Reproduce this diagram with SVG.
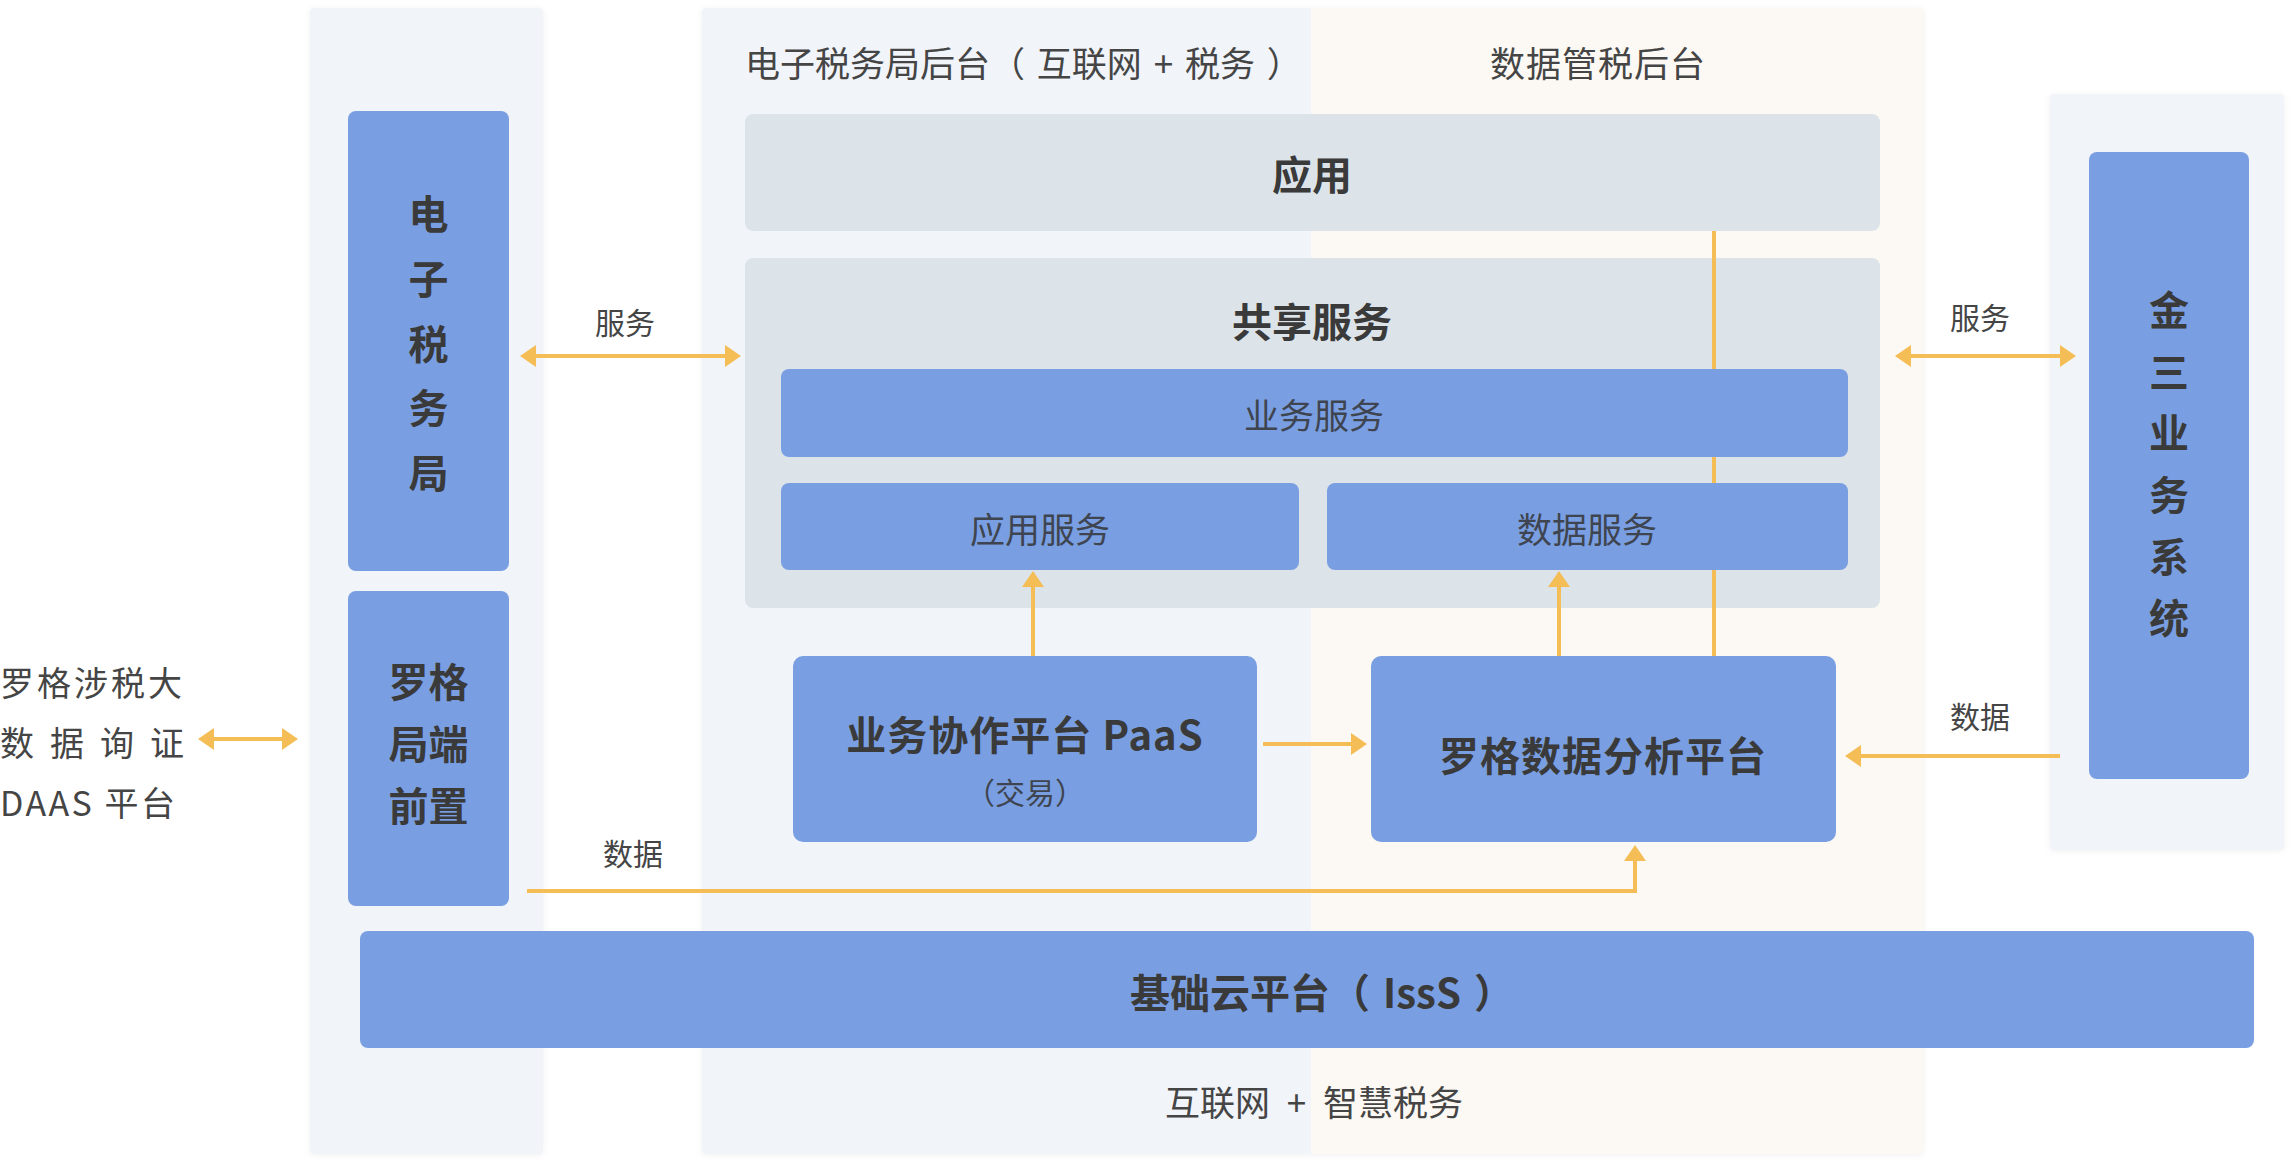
<svg xmlns="http://www.w3.org/2000/svg" width="2296" height="1168" viewBox="0 0 2296 1168">
<defs>
<filter id="sh" x="-5%" y="-5%" width="110%" height="110%"><feDropShadow dx="0" dy="1" stdDeviation="3" flood-color="#000" flood-opacity="0.06"/></filter>
<marker id="ah" viewBox="0 0 16 22" refX="1" refY="11" markerWidth="16" markerHeight="22" markerUnits="userSpaceOnUse" orient="auto-start-reverse"><path d="M0,0 L16,11 L0,22 z" fill="#f5bd56"/></marker>
</defs>
<style>
.panel{fill:#f1f4f8}
.cream{fill:#fcf9f4}
.grey{fill:#dde4e9}
.blue{fill:#799fe2}
.t{font-family:"Noto Sans CJK SC","Noto Sans",sans-serif;fill:#454545}
.b{font-weight:700;fill:#3a3a3a;font-size:40px}
.n{font-size:35px}
.ni{font-size:35px;fill:#3f4550}
.lbl{font-size:30px}
.c{text-anchor:middle;dominant-baseline:central}
.m{dominant-baseline:central}
.ln{stroke:#f5bd56;stroke-width:4;fill:none}
</style>
<rect width="2296" height="1168" fill="#ffffff"/>

<g id="panel-left">
<rect class="panel" x="310" y="8" width="233" height="1146" rx="4" filter="url(#sh)"/>
</g>
<g id="panel-center">
<rect class="panel" x="702" y="8" width="1221" height="1146" rx="4" filter="url(#sh)"/>
<rect class="cream" x="1311" y="8" width="612" height="1146"/>
<text class="t n m" style="word-spacing:4px" x="745" y="61">电子税务局后台（ 互联网 + 税务 ）</text>
<text class="t n m" style="letter-spacing:1px" x="1490" y="61">数据管税后台</text>
<text class="t n c" style="word-spacing:9px" x="1314" y="1100">互联网 + 智慧税务</text>
</g>
<g id="panel-right">
<rect class="panel" x="2050" y="94" width="234" height="756" rx="4" filter="url(#sh)"/>
</g>

<g id="source-daas">
<text class="t m" style="font-size:34px" y="681"><tspan x="0">罗</tspan><tspan x="37">格</tspan><tspan x="74">涉</tspan><tspan x="111">税</tspan><tspan x="148">大</tspan></text>
<text class="t m" style="font-size:34px" y="741"><tspan x="0">数</tspan><tspan x="50">据</tspan><tspan x="100">询</tspan><tspan x="150">证</tspan></text>
<text class="t m" style="font-size:34px;letter-spacing:2.5px" x="0" y="801">DAAS 平台</text>
</g>

<g id="node-app">
<rect class="grey" x="745" y="114" width="1135" height="117" rx="8"/>
<text class="t b c" x="1312" y="173">应用</text>
</g>
<g id="node-shared">
<rect class="grey" x="745" y="258" width="1135" height="350" rx="8"/>
<text class="t b c" x="1312" y="320">共享服务</text>
</g>

<g id="connectors">
<line class="ln" x1="213" y1="739" x2="283" y2="739" marker-start="url(#ah)" marker-end="url(#ah)"/>
<line class="ln" x1="535" y1="356" x2="726" y2="356" marker-start="url(#ah)" marker-end="url(#ah)"/>
<text class="t lbl c" x="625" y="321">服务</text>
<line class="ln" x1="1910" y1="356" x2="2061" y2="356" marker-start="url(#ah)" marker-end="url(#ah)"/>
<text class="t lbl c" x="1980" y="316">服务</text>
<line class="ln" x1="2060" y1="756" x2="1860" y2="756" marker-end="url(#ah)"/>
<text class="t lbl c" x="1980" y="715">数据</text>
<line class="ln" x1="1263" y1="744" x2="1352" y2="744" marker-end="url(#ah)"/>
<line class="ln" x1="1033" y1="656" x2="1033" y2="586" marker-end="url(#ah)"/>
<line class="ln" x1="1559" y1="656" x2="1559" y2="586" marker-end="url(#ah)"/>
<line class="ln" x1="1714" y1="231" x2="1714" y2="656"/>
<path class="ln" d="M527,891 H1635 V860" marker-end="url(#ah)"/>
<text class="t lbl c" x="633" y="852">数据</text>
</g>

<g id="node-biz-service">
<rect class="blue" x="781" y="369" width="1067" height="88" rx="8"/>
<text class="t ni c" x="1314" y="413">业务服务</text>
</g>
<g id="node-app-service">
<rect class="blue" x="781" y="483" width="518" height="87" rx="8"/>
<text class="t ni c" x="1040" y="527">应用服务</text>
</g>
<g id="node-data-service">
<rect class="blue" x="1327" y="483" width="521" height="87" rx="8"/>
<text class="t ni c" x="1587" y="527">数据服务</text>
</g>
<g id="node-paas">
<rect class="blue" x="793" y="656" width="464" height="186" rx="10"/>
<text class="t b c" style="letter-spacing:1px" x="1025" y="733">业务协作平台 PaaS</text>
<text class="t c" style="font-size:30px;fill:#3f4550" x="1025" y="791">（交易）</text>
</g>
<g id="node-analysis">
<rect class="blue" x="1371" y="656" width="465" height="186" rx="10"/>
<text class="t b c" style="letter-spacing:1px" x="1603" y="754">罗格数据分析平台</text>
</g>
<g id="node-etax">
<rect class="blue" x="348" y="111" width="161" height="460" rx="8"/>
<text class="t b c"><tspan x="428.5" y="212">电</tspan><tspan x="428.5" y="277">子</tspan><tspan x="428.5" y="342">税</tspan><tspan x="428.5" y="406">务</tspan><tspan x="428.5" y="471">局</tspan></text>
</g>
<g id="node-front">
<rect class="blue" x="348" y="591" width="161" height="315" rx="8"/>
<text class="t b c"><tspan x="428.5" y="680">罗格</tspan><tspan x="428.5" y="742">局端</tspan><tspan x="428.5" y="804">前置</tspan></text>
</g>
<g id="node-jinsan">
<rect class="blue" x="2089" y="152" width="160" height="627" rx="8"/>
<text class="t b c"><tspan x="2169" y="308">金</tspan><tspan x="2169" y="370">三</tspan><tspan x="2169" y="431">业</tspan><tspan x="2169" y="493">务</tspan><tspan x="2169" y="555">系</tspan><tspan x="2169" y="616">统</tspan></text>
</g>
<g id="node-iaas">
<rect class="blue" x="360" y="931" width="1894" height="117" rx="8"/>
<text class="t b c" style="word-spacing:4px" x="1322" y="991">基础云平台（ IssS ）</text>
</g>
</svg>
